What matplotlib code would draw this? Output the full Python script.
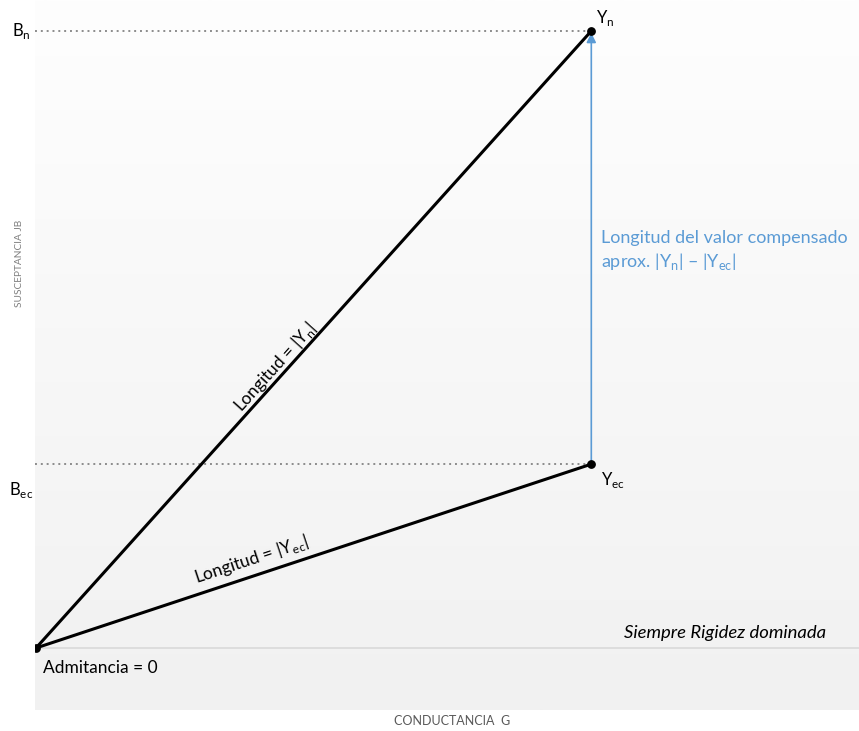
import numpy as np
import matplotlib
matplotlib.use("Agg")
import matplotlib.pyplot as plt
from matplotlib.colors import LinearSegmentedColormap

plt.rcParams['font.family'] = ['Lato', 'DejaVu Sans']
plt.rcParams['mathtext.fontset'] = 'custom'
plt.rcParams['mathtext.rm'] = 'Lato'

# Data (arbitrary units, B_n = 1)
points = ["Admitancia = 0", "Y_ec", "Y_n"]
G_vals = [0.0, 0.90, 0.90]
B_vals = [0.0, 0.298, 1.0]

W, H = 859, 731
fig = plt.figure(figsize=(W / 100, H / 100), dpi=100)
fig.patch.set_facecolor('white')

# axes region in pixels
ax_l, ax_r, ax_t, ax_b = 35, 859, 0, 710
ax = fig.add_axes([ax_l / W, (H - ax_b) / H, (ax_r - ax_l) / W, (ax_b - ax_t) / H])

scale = 617.0  # px per unit
x0_px, y0_px = 36, 648
xlim = ((ax_l - x0_px) / scale, (ax_r - x0_px) / scale)
ylim = (-(ax_b - y0_px) / scale, (y0_px - ax_t) / scale)
for s in ax.spines.values():
    s.set_visible(False)
ax.set_xticks([])
ax.set_yticks([])

# gradient background (white at top -> light gray at bottom)
cmap = LinearSegmentedColormap.from_list('bg', ['#fefefe', '#f1f1f1'])
grad = np.linspace(0, 1, 256).reshape(-1, 1)
ax.imshow(grad, cmap=cmap, extent=[xlim[0], xlim[1], ylim[0], ylim[1]],
          origin='upper', aspect='auto', zorder=0)
ax.set_xlim(*xlim)
ax.set_ylim(*ylim)

# horizontal axis line
ax.axhline(0, color='#d9d9d9', lw=1.2, zorder=1)

o = (G_vals[0], B_vals[0])
yec = (G_vals[1], B_vals[1])
yn = (G_vals[2], B_vals[2])

# dotted guides
dot_kw = dict(color='#8c8c8c', lw=1.4, linestyle=(0, (1, 2)), zorder=2)
ax.plot([xlim[0], yn[0]], [yn[1], yn[1]], **dot_kw)
ax.plot([xlim[0], yec[0]], [yec[1], yec[1]], **dot_kw)

# vectors
ax.plot([o[0], yn[0]], [o[1], yn[1]], color='black', lw=2.2, zorder=3, solid_capstyle='round')
ax.plot([o[0], yec[0]], [o[1], yec[1]], color='black', lw=2.2, zorder=3, solid_capstyle='round')

# blue arrow
ax.annotate('', xy=(yn[0], yn[1] - 0.003), xytext=(yec[0], yec[1]),
            arrowprops=dict(arrowstyle='-|>', color='#5b9bd5', lw=1.2,
                            mutation_scale=14, shrinkA=0, shrinkB=0), zorder=4)

# points
ax.scatter([o[0], yec[0], yn[0]], [o[1], yec[1], yn[1]], s=28, color='black', zorder=5)

# point labels
ax.text(yn[0] + 0.008, yn[1] + 0.005, r'Y$_\mathregular{n}$', fontsize=12, va='bottom', ha='left')
ax.text(yec[0] + 0.016, yec[1] - 0.010, r'Y$_\mathregular{ec}$', fontsize=12, va='top', ha='left')
ax.text(0.012, -0.020, 'Admitancia = 0', fontsize=12.5, va='top', ha='left')
ax.text(1.28, 0.012, 'Siempre Rigidez dominada', fontsize=13.3, style='italic',
        va='bottom', ha='right')

# line labels
def angle(p1, p2):
    a = ax.transData.transform(p1)
    b = ax.transData.transform(p2)
    return np.degrees(np.arctan2(b[1] - a[1], b[0] - a[0]))

ang_n = angle(o, yn)
ang_ec = angle(o, yec)
ax.text(0.40, 0.445, r'Longitud = |Y$_\mathregular{n}$|', fontsize=12.5,
        rotation=ang_n, rotation_mode='anchor', ha='center', va='bottom')
ax.text(0.355, 0.128, r'Longitud = |Y$_\mathregular{ec}$|', fontsize=12.5,
        rotation=ang_ec, rotation_mode='anchor', ha='center', va='bottom')

# blue annotation
ax.text(yn[0] + 0.015, 0.665, 'Longitud del valor compensado', fontsize=13,
        color='#5b9bd5', ha='left', va='center')
ax.text(yn[0] + 0.015, 0.627, r'aprox. |Y$_\mathregular{n}$| – |Y$_\mathregular{ec}$|', fontsize=13,
        color='#5b9bd5', ha='left', va='center')

# y-axis labels (in figure pixels)
fig.text(12 / W, 1 - 31 / H, r'B$_\mathregular{n}$', fontsize=12, ha='left', va='center')
fig.text(9 / W, 1 - 490 / H, r'B$_\mathregular{ec}$', fontsize=12, ha='left', va='center')
fig.text(20 / W, 1 - 263 / H, 'SUSCEPTANCIA JB', fontsize=7.3, color='#7f7f7f',
         rotation=90, ha='center', va='center')
fig.text(452 / W, 1 - 721 / H, 'CONDUCTANCIA  G', fontsize=9, color='#595959',
         ha='center', va='center')

fig.savefig('out.png', dpi=100, facecolor='white')
